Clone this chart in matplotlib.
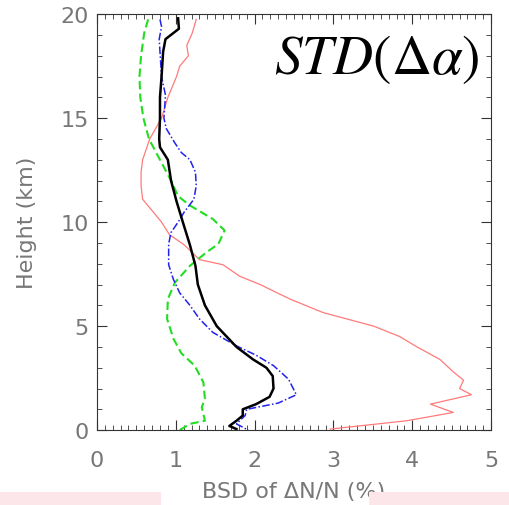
import numpy as np
import matplotlib.pyplot as plt
from matplotlib.patches import Rectangle

plt.rcParams['mathtext.fontset'] = 'stix'

# profiles: BSD of dN/N (%) vs height (km)
h_black = [19.8, 19.3, 18.8, 18.2, 17.0, 16.0, 15.0, 14.0, 13.6, 13.0, 12.0, 11.0, 10.0,
           8.9, 7.9, 7.0, 6.0, 5.0, 4.0, 3.4, 3.0, 2.6, 2.0, 1.6, 1.25, 1.0, 0.7, 0.45, 0.2, 0.05]
x_black = [1.03, 1.04, 0.87, 0.84, 0.82, 0.80, 0.80, 0.79, 0.80, 0.90, 0.94, 1.01, 1.09,
           1.18, 1.25, 1.28, 1.37, 1.52, 1.77, 1.98, 2.15, 2.23, 2.24, 2.19, 2.02, 1.85, 1.85, 1.77, 1.68, 1.77]

h_blue = [19.75, 19.4, 18.8, 18.2, 17.0, 16.1, 15.0, 14.5, 13.8, 13.35, 13.0, 12.4, 11.75, 11.1,
          10.5, 10.0, 9.5, 8.95, 7.95, 7.25, 6.6, 6.0, 5.35, 4.7, 4.05, 3.6, 3.1, 2.45, 1.7, 1.3,
          1.0, 0.7, 0.3, 0.0]
x_blue = [0.80, 0.82, 0.79, 0.80, 0.82, 0.87, 0.85, 0.88, 0.99, 1.07, 1.18, 1.25, 1.26, 1.23,
          1.11, 1.03, 0.94, 0.91, 0.91, 0.97, 1.05, 1.18, 1.30, 1.47, 1.77, 2.02, 2.24, 2.43, 2.53, 2.30,
          1.90, 1.88, 1.77, 1.92]

h_red = [19.75, 19.1, 18.5, 18.0, 17.5, 17.0, 16.0, 15.0, 14.0, 13.0, 12.4, 11.75, 11.1, 10.6,
         10.0, 9.4, 8.9, 8.2, 7.95, 7.4, 7.0, 6.3, 5.65, 5.0, 4.5, 4.0, 3.4, 2.8, 2.4, 2.0, 1.7,
         1.25, 0.85, 0.45, 0.05]
x_red = [1.26, 1.21, 1.14, 1.16, 1.05, 1.01, 0.90, 0.82, 0.67, 0.58, 0.56, 0.56, 0.58, 0.69,
         0.82, 0.92, 1.11, 1.30, 1.60, 1.81, 2.07, 2.45, 2.87, 3.51, 3.84, 4.06, 4.35, 4.52, 4.65, 4.60, 4.75,
         4.23, 4.52, 3.93, 2.96]

h_green = [19.75, 19.1, 18.0, 17.0, 16.0, 15.0, 14.0, 13.0, 12.0, 11.25, 10.8, 10.15, 9.6, 8.95,
           8.55, 7.9, 7.1, 6.3, 5.35, 4.4, 3.7, 3.1, 2.3, 1.5, 1.1, 0.45, 0.3, 0.0]
x_green = [0.65, 0.60, 0.56, 0.54, 0.55, 0.59, 0.66, 0.80, 0.94, 1.03, 1.18, 1.47, 1.62, 1.54,
           1.39, 1.18, 0.99, 0.90, 0.89, 0.97, 1.07, 1.24, 1.35, 1.37, 1.33, 1.37, 1.18, 1.05]

fig = plt.figure(figsize=(5.10, 5.06), dpi=100)
ax = fig.add_axes([0.190, 0.148, 0.773, 0.822])

ax.plot(x_red, h_red, color='#ff7a7a', lw=0.9)
ax.plot(x_green, h_green, color='#22dd22', lw=1.5, dashes=(4, 2))
ax.plot(x_blue, h_blue, color='#2222ee', lw=1.1, dashes=(5, 1.5, 1, 1.5))
ax.plot(x_black, h_black, color='black', lw=1.8)

ax.set_xlim(0, 5)
ax.set_ylim(0, 20)
ax.set_xticks([0, 1, 2, 3, 4, 5])
ax.set_yticks([0, 5, 10, 15, 20])
ax.set_xticks(np.arange(0, 5.01, 0.1), minor=True)
ax.set_yticks(np.arange(0, 20.1, 1), minor=True)
ax.tick_params(which='both', direction='in', top=True, right=True, colors='#333333',
               labelcolor='#777777', labelsize=16)
ax.tick_params(which='major', length=7)
ax.tick_params(which='minor', length=3.5)
ax.tick_params(axis='x', which='major', pad=14)
ax.tick_params(axis='y', which='major', pad=6)
for s in ax.spines.values():
    s.set_color('#333333')

ax.set_xlabel('BSD of ΔN/N (%)', fontsize=16, color='#777777', labelpad=8)
ax.set_ylabel('Height (km)', fontsize=16, color='#777777', labelpad=17)

ax.text(0.972, 0.858, r'$STD(\Delta\alpha)$', transform=ax.transAxes,
        ha='right', va='baseline', fontsize=40)

fig.patches.append(Rectangle((0, 0), 161 / 510, 13 / 506, transform=fig.transFigure,
                             facecolor='#fde6e9', edgecolor='none', zorder=5))
fig.patches.append(Rectangle((369 / 510, 0), 141 / 510, 13 / 506, transform=fig.transFigure,
                             facecolor='#fde6e9', edgecolor='none', zorder=5))

fig.savefig('out.png', dpi=100)
